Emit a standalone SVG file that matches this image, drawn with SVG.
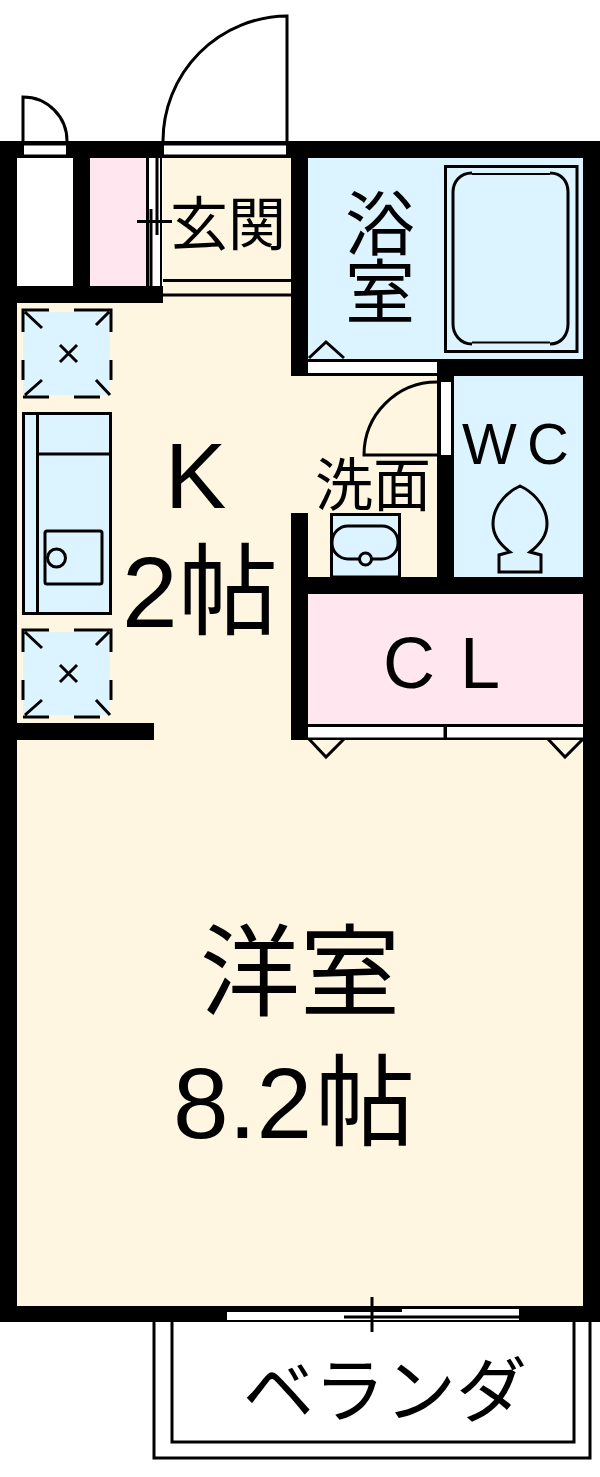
<svg xmlns="http://www.w3.org/2000/svg" width="600" height="1477" viewBox="0 0 600 1477">
<style>
.line{fill:none;stroke:#000;stroke-width:3}
.thin{fill:none;stroke:#000;stroke-width:2}
.win{fill:#fff;stroke:#000;stroke-width:2}
.wall{fill:#000}
.blue{fill:#dcf4ff}
.cream{fill:#fff6e2}
.pink{fill:#ffe6ef}
.latin{font-family:"Liberation Sans",Arial,sans-serif;fill:#000}
.cjk{font-family:"Noto Sans CJK JP","Liberation Sans",sans-serif;fill:#000}
</style>
<defs>
<g id="vent">
<rect x="23" y="2" width="87" height="83" class="blue"/>
<path class="line" d="M23 22V0H49M74 0H100M111 22V0H100M23 50V70M111 50V70M23 87H49M74 87H100M25 2L42 18M109 2L96 15M42 70L25 85M96 70L110 85M60 35L77 52M77 35L60 52"/>
</g>
</defs>
<rect id="floor" x="17" y="303" width="566" height="1003" class="cream"/>
<g id="door-swings">
<path class="line" d="M23 141V97A44 44 0 0 1 67 141"/>
<path class="line" d="M287 141V16A125 125 0 0 0 163 141"/>
</g>
<g id="veranda">
<path class="line" d="M154 1322V1458H590V1322"/>
<path class="line" d="M172 1322V1442H574V1322"/>
<text class="cjk" x="243" y="1416" font-size="71">ベランダ</text>
</g>
<g id="storage"><rect x="17" y="158" width="56" height="128" fill="#fff"/></g>
<g id="closet-small"><rect x="90" y="158" width="56" height="128" class="pink"/></g>
<g id="entrance">
<rect x="163" y="158" width="128" height="145" class="cream"/>
<path class="line" d="M163 280.500H291M163 295H291"/>
<text class="cjk" x="170" y="245" font-size="58">玄関</text>
</g>
<g id="bath">
<rect x="308" y="158" width="275" height="201" class="blue"/>
<rect x="445.500" y="166.500" width="131.500" height="185" fill="none" stroke="#000" stroke-width="3"/>
<path class="thin" d="M472 174H550M472 342.500H550"/>
<path class="line" d="M472 173C460 173 453 182 453 192V324C453 334 460 344 472 344M550 173C562 173 568 182 568 192V324C568 334 562 344 550 344"/>
<path class="line" d="M309 358L326 342L344 358"/>
<text class="cjk" x="345" y="250" font-size="70">浴</text>
<text class="cjk" x="345" y="318" font-size="70">室</text>
</g>
<g id="wc">
<rect x="454" y="376" width="129" height="201" class="blue"/>
<text class="latin" x="462" y="464" font-size="58">W</text>
<text class="latin" x="527" y="464" font-size="58">C</text>
<path class="line" d="M520 486C511 490 493 503 493 524C493 537 502 546 510 552L499 555V572H541V555L530 552C538 546 547 537 547 524C547 503 529 490 520 486Z"/>
</g>
<g id="washroom">
<path class="line" d="M437 382A73 73 0 0 0 364 455H437"/>
<rect x="331.500" y="514.500" width="68" height="62.500" class="blue" stroke="#000" stroke-width="3"/>
<rect x="332" y="526" width="66" height="33" rx="16" fill="none" stroke="#000" stroke-width="3"/>
<circle cx="365.500" cy="559" r="6" class="blue" stroke="#000" stroke-width="3"/>
<text class="cjk" x="315" y="506" font-size="58">洗面</text>
</g>
<g id="cl">
<rect x="308" y="594" width="275" height="130" class="pink"/>
<text class="latin" x="383" y="688" font-size="72">C</text>
<text class="latin" x="460" y="688" font-size="72">L</text>
</g>
<g id="kitchen">
<use href="#vent" y="310"/>
<rect x="23.500" y="413.500" width="87" height="200" class="blue" stroke="#000" stroke-width="3"/>
<path class="line" d="M37.500 413V614M38 454H110"/>
<rect x="45" y="531" width="57" height="53" rx="2" fill="none" stroke="#000" stroke-width="3"/>
<circle cx="56.500" cy="558" r="9" fill="none" stroke="#000" stroke-width="3"/>
<use href="#vent" y="630"/>
<text class="latin" x="165" y="508" font-size="92">K</text>
<text class="cjk" x="178" y="627" font-size="100">帖</text>
<text class="latin" x="122" y="627" font-size="100">2</text>
</g>
<g id="western-room">
<text class="cjk" x="200" y="1008" font-size="100">洋室</text>
<text class="latin" x="173" y="1138" font-size="100">8.2</text>
<text class="cjk" x="315" y="1138" font-size="100">帖</text>
</g>
<g id="walls" class="wall">
<rect x="0" y="141" width="600" height="17"/>
<rect x="0" y="141" width="17" height="1181"/>
<rect x="583" y="141" width="17" height="1181"/>
<rect x="0" y="1306" width="600" height="16"/>
<rect x="73" y="141" width="17" height="162"/>
<rect x="0" y="286" width="163" height="17"/>
<rect x="291" y="141" width="17" height="235"/>
<rect x="291" y="359" width="309" height="17"/>
<rect x="437" y="359" width="17" height="235"/>
<rect x="291" y="513" width="17" height="227"/>
<rect x="291" y="577" width="309" height="17"/>
<rect x="0" y="723" width="154" height="17"/>
</g>
<g id="openings">
<rect x="23" y="144.500" width="44" height="11" class="win"/>
<rect x="163" y="144.500" width="124" height="11" class="win"/>
<rect x="308" y="362" width="129" height="11" fill="#fff"/>
<rect x="441" y="382" width="10" height="73" fill="#fff"/>
<rect x="147" y="158" width="16" height="128" fill="#fff"/>
<path class="line" d="M147.500 158V286M151 209V286M157 158V235M137 221.500H172"/>
<path class="thin" d="M161 158V286"/>
<rect x="308" y="724" width="275" height="16" fill="#000"/>
<rect x="308" y="727" width="135.500" height="10.500" fill="#fff"/>
<rect x="447" y="727" width="136" height="10.500" fill="#fff"/>
<path class="line" d="M309 739L326 757L344 739M548 739L565 757L583 739"/>
<rect x="227" y="1309" width="292" height="11" fill="#fff"/>
<path class="line" d="M227 1310.500H402M344 1317H519"/>
<path class="line" d="M372 1297V1332"/>
</g>
</svg>
